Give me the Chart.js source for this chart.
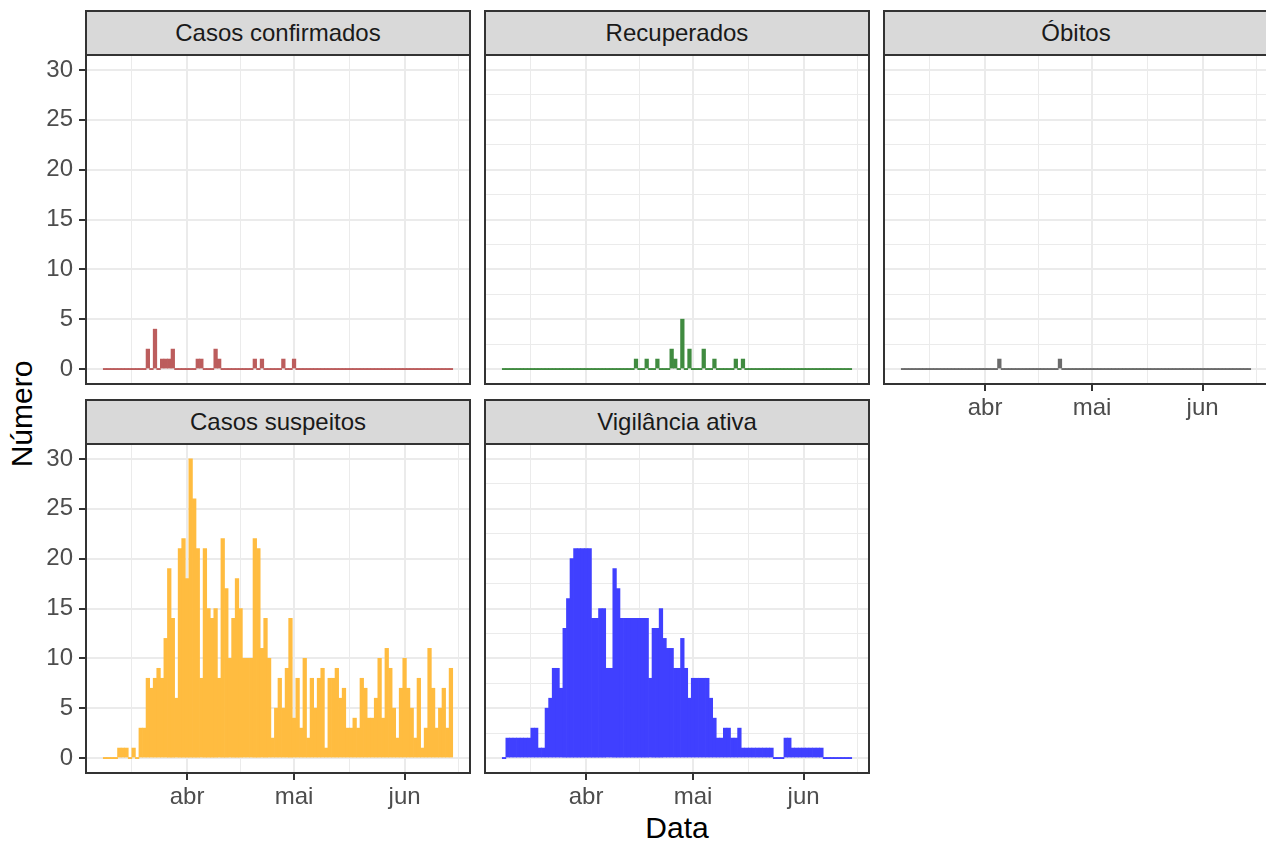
<!DOCTYPE html>
<html>
<head>
<meta charset="utf-8">
<script src="https://cdn.jsdelivr.net/npm/chart.js@4.4.1/dist/chart.umd.min.js"></script>
<style>
  body { margin: 0; background: #fff; width: 1266px; height: 845px; overflow: hidden; position: relative;
         font-family: "Liberation Sans", Arial, sans-serif; }
  .strip { position: absolute; background: #d9d9d9; border: 2px solid #333; box-sizing: border-box;
           color: #1a1a1a; font-size: 24px; display: flex; align-items: center; justify-content: center; }
  .frame { position: absolute; border: 2px solid #333; box-sizing: border-box; pointer-events: none; }
  canvas { position: absolute; }
  .title { position: absolute; font-size: 30px; color: #000; white-space: nowrap; }
</style>
</head>
<body>
<div class="title" id="ytitle" style="left:22px;top:414px;transform:translate(-50%,-50%) rotate(-90deg);">Número</div>
<div class="title" style="left:677px;top:828px;transform:translate(-50%,-50%);">Data</div>
<script>
// ---- Dados: um valor por dia, de 09/03 a 14/06 ----
const inicio = '2020-03-09';
const nDias = 98;

const confirmados = [
  0,0,0,0,0,0,0,0,0,0, 0,0,2,0,4,0,1,1,1,2, 0,0,0,0,0,0,1,1,0,0,
  0,2,1,0,0,0,0,0,0,0, 0,0,1,0,1,0,0,0,0,0, 1,0,0,1,0,0,0,0,0,0,
  0,0,0,0,0,0,0,0,0,0, 0,0,0,0,0,0,0,0,0,0, 0,0,0,0,0,0,0,0,0,0,
  0,0,0,0,0,0,0,0
];
const recuperados = [
  0,0,0,0,0,0,0,0,0,0, 0,0,0,0,0,0,0,0,0,0, 0,0,0,0,0,0,0,0,0,0,
  0,0,0,0,0,0,0,1,0,0, 1,0,0,1,0,0,0,2,1,0, 5,0,2,0,0,0,2,0,0,1,
  0,0,0,0,0,1,0,1,0,0, 0,0,0,0,0,0,0,0,0,0, 0,0,0,0,0,0,0,0,0,0,
  0,0,0,0,0,0,0,0
];
const obitos = [
  0,0,0,0,0,0,0,0,0,0, 0,0,0,0,0,0,0,0,0,0, 0,0,0,0,0,0,0,1,0,0,
  0,0,0,0,0,0,0,0,0,0, 0,0,0,0,1,0,0,0,0,0, 0,0,0,0,0,0,0,0,0,0,
  0,0,0,0,0,0,0,0,0,0, 0,0,0,0,0,0,0,0,0,0, 0,0,0,0,0,0,0,0,0,0,
  0,0,0,0,0,0,0,0
];
const suspeitos = [
  0,0,0,0,1,1,1,0,1,0, 3,3,8,7,8,9,8,12,19,14, 6,21,22,18,30,26,21,8,21,15,
  14,15,8,22,17,10,14,18,15,10, 10,10,22,21,11,14,10,2,5,8, 5,9,14,4,8,3,10,2,8,5,
  8,9,1,8,8,9,6,7,3,3, 4,3,8,7,4,4,6,10,4,11, 9,5,2,7,10,7,5,2,8,1,
  3,11,7,3,5,7,3,9
];
const vigilancia = [
  0,2,2,2,2,2,2,2,3,3, 1,1,5,6,9,9,7,13,16,20, 21,21,21,21,21,14,14,15,15,9,
  9,19,17,14,14,14,14,14,14,14, 14,8,13,13,15,12,11,11,9,9, 12,9,6,8,8,8,8,8,6,4,
  2,2,3,3,2,2,3,1,1,1, 1,1,1,1,1,1,0,0,0,2, 2,1,1,1,1,1,1,1,1,1,
  0,0,0,0,0,0,0,0
];

// eixo x: inícios de mês e rótulos
const mesesInicio = ['2020-03-01', '2020-04-01', '2020-05-01', '2020-06-01', '2020-07-01'];
const mesesRotulo = ['mar', 'abr', 'mai', 'jun', 'jul'];
// eixo y
const yMajor = [0, 5, 10, 15, 20, 25, 30];
const yMinor = [2.5, 7.5, 12.5, 17.5, 22.5, 27.5];

const paineis = [
  { titulo: 'Casos confirmados', dados: confirmados, cor: '#BC5D5D', col: 0, lin: 0, eixoY: true,  eixoX: false },
  { titulo: 'Recuperados',       dados: recuperados, cor: '#408B40', col: 1, lin: 0, eixoY: false, eixoX: false },
  { titulo: 'Óbitos',            dados: obitos,      cor: '#6B6B6B', col: 2, lin: 0, eixoY: false, eixoX: true },
  { titulo: 'Casos suspeitos',   dados: suspeitos,   cor: '#FFBC40', col: 0, lin: 1, eixoY: true,  eixoX: true },
  { titulo: 'Vigilância ativa',  dados: vigilancia,  cor: '#4040FF', col: 1, lin: 1, eixoY: false, eixoX: true }
];

// ---- Geometria ----
const COL_X = [86, 485, 884];
const ROW_Y = [55, 444];
const PW = 384, PH = 329, STRIP_H = 45;
const AX_W = 86, AX_H = 75;
const X_MIN = -5.35, X_MAX = 102.35;
const FONT = '"Liberation Sans", Arial, sans-serif';

const diaIdx = d => Math.round((Date.parse(d) - Date.parse(inicio)) / 864e5);
const mesIdx = mesesInicio.map(diaIdx);
const xMajor = mesIdx.filter(v => v >= X_MIN && v <= X_MAX);
const xMinor = mesIdx.slice(1).map((v, i) => (v + mesIdx[i]) / 2).filter(v => v >= X_MIN && v <= X_MAX);
const xTicks = [...xMajor, ...xMinor].sort((a, b) => a - b);
const yTicks = [...yMajor, ...yMinor].sort((a, b) => a - b);

function rotuloX(v) {
  const i = mesIdx.indexOf(v);
  return i >= 0 ? mesesRotulo[i] : '';
}
const ehMaior = (lista, c) => !!(c.tick && lista.includes(c.tick.value));
// sem folgas automáticas: a área do painel fica fixa
const semFolga = s => { s.paddingTop = s.paddingBottom = s.paddingLeft = s.paddingRight = 0; };

paineis.forEach(p => {
  const left = COL_X[p.col], top = ROW_Y[p.lin];

  const strip = document.createElement('div');
  strip.className = 'strip';
  strip.style.cssText = `left:${left - 1}px;top:${top - STRIP_H}px;width:${PW + 2}px;height:${STRIP_H + 1}px;`;
  strip.textContent = p.titulo;
  document.body.appendChild(strip);

  const cv = document.createElement('canvas');
  cv.width = AX_W + PW; cv.height = PH + AX_H;
  cv.style.cssText = `left:${left - AX_W}px;top:${top}px;width:${AX_W + PW}px;height:${PH + AX_H}px;`;
  document.body.appendChild(cv);

  const frame = document.createElement('div');
  frame.className = 'frame';
  frame.style.cssText = `left:${left - 1}px;top:${top - 1}px;width:${PW + 2}px;height:${PH + 2}px;`;
  document.body.appendChild(frame);

  new Chart(cv.getContext('2d'), {
    type: 'bar',
    data: {
      datasets: [{
        data: p.dados.map((v, i) => ({ x: i, y: v })),
        backgroundColor: p.cor,
        borderWidth: 0,
        barPercentage: 1,
        categoryPercentage: 1,
        inflateAmount: 0.35,
        minBarLength: 1.2
      }]
    },
    options: {
      responsive: false,
      animation: false,
      devicePixelRatio: 1,
      layout: { padding: 0 },
      plugins: { legend: { display: false }, tooltip: { enabled: false } },
      scales: {
        x: {
          type: 'linear', min: X_MIN, max: X_MAX, offset: false,
          afterBuildTicks: s => { s.ticks = xTicks.map(v => ({ value: v })); },
          afterFit: s => { s.height = AX_H; semFolga(s); },
          border: { display: false },
          grid: {
            offset: false,
            color: '#EBEBEB',
            lineWidth: c => ehMaior(xMajor, c) ? 2 : 1,
            drawTicks: p.eixoX, tickLength: 7, tickWidth: 2,
            tickColor: c => ehMaior(xMajor, c) ? '#333333' : 'rgba(0,0,0,0)'
          },
          ticks: {
            display: p.eixoX, autoSkip: false, maxRotation: 0, padding: 3,
            color: '#4D4D4D', font: { size: 24, family: FONT },
            callback: v => rotuloX(v)
          }
        },
        y: {
          min: -1.5, max: 31.5,
          afterBuildTicks: s => { s.ticks = yTicks.map(v => ({ value: v })); },
          afterFit: s => { s.width = AX_W; semFolga(s); },
          border: { display: false },
          grid: {
            color: '#EBEBEB',
            lineWidth: c => ehMaior(yMajor, c) ? 2 : 1,
            drawTicks: p.eixoY, tickLength: 7, tickWidth: 2,
            tickColor: c => ehMaior(yMajor, c) ? '#333333' : 'rgba(0,0,0,0)'
          },
          ticks: {
            display: p.eixoY, padding: 6,
            color: '#4D4D4D', font: { size: 24, family: FONT },
            callback: v => yMajor.includes(v) ? String(v) : ''
          }
        }
      }
    }
  });
});
</script>
</body>
</html>
